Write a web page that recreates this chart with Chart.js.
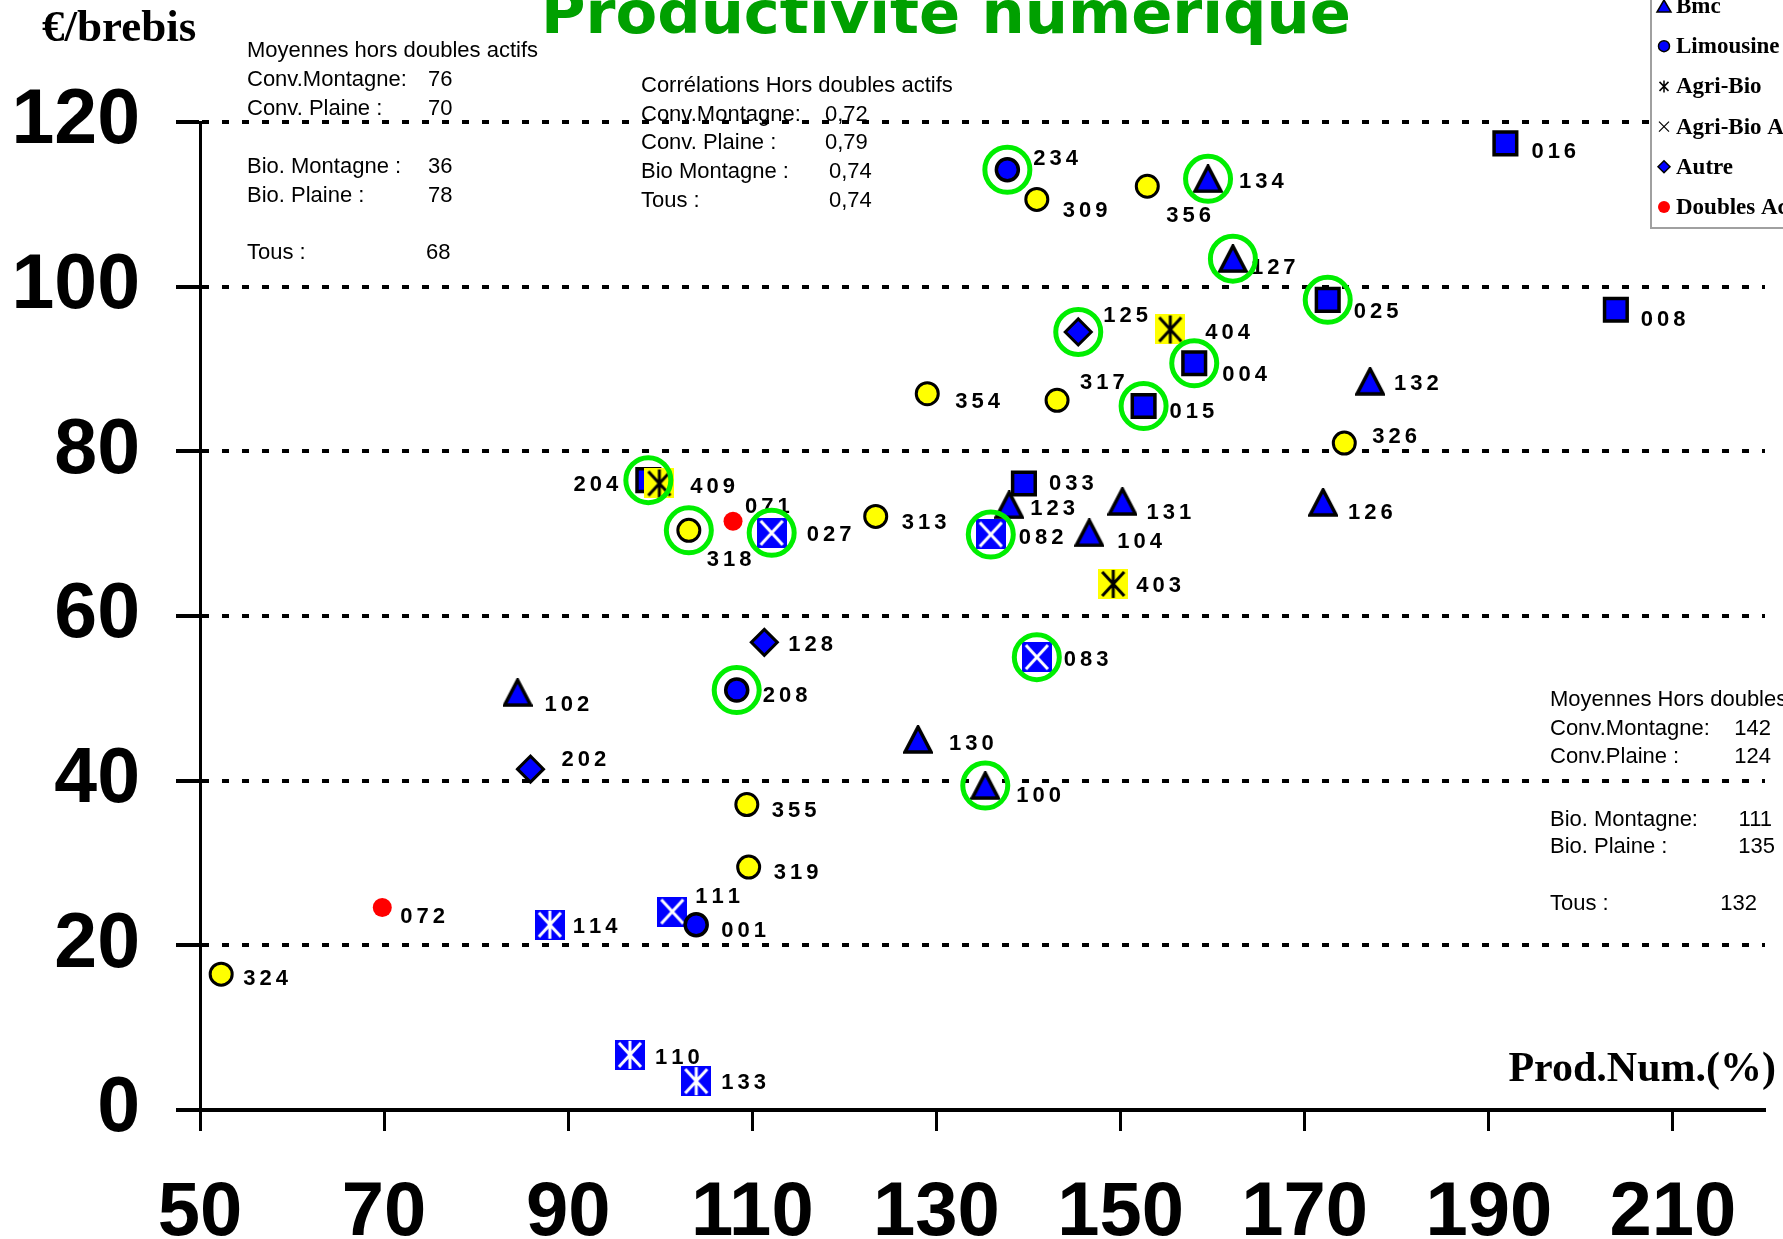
<!DOCTYPE html>
<html lang="fr">
<head>
<meta charset="utf-8">
<title>Productivité numérique</title>
<script src="https://cdn.jsdelivr.net/npm/chart.js@4.4.0/dist/chart.umd.min.js"></script>
<style>
  html, body { margin: 0; padding: 0; background: #fff; overflow: hidden; }
  canvas { display: block; }
</style>
</head>
<body>
<canvas id="myChart" width="1783" height="1239"></canvas>
<script>
// axes
const xTicks = [50, 70, 90, 110, 130, 150, 170, 190, 210];
const yTicks = [0, 20, 40, 60, 80, 100, 120];

// carrés bleus
const carreIds = ['016', '008', '025', '004', '015', '033', '204'];
const carreX = [191.8, 203.8, 172.5, 158.0, 152.5, 139.5, 98.7];
const carreY = [117.4, 97.2, 98.4, 90.7, 85.5, 76.1, 76.5];
// cercles jaunes
const jauneIds = ['309', '356', '354', '317', '326', '313', '318', '355', '319', '324'];
const jauneX = [140.9, 152.9, 129.0, 143.1, 174.3, 123.4, 103.1, 109.4, 109.6, 52.3];
const jauneY = [110.6, 112.2, 87.0, 86.2, 81.0, 72.1, 70.4, 37.1, 29.5, 16.5];
// Bmc
const bmcIds = ['134', '127', '132', '126', '131', '104', '123', '102', '130', '100'];
const bmcX = [159.5, 162.2, 177.1, 172.0, 150.2, 146.6, 137.9, 84.5, 128.0, 135.3];
const bmcY = [113.1, 103.4, 88.5, 73.8, 73.9, 70.1, 73.5, 50.7, 45.0, 39.4];
// Limousine
const limIds = ['234', '208', '001'];
const limX = [137.7, 108.3, 103.9];
const limY = [114.2, 51.0, 22.5];
// Autre
const autreIds = ['125', '128', '202'];
const autreX = [145.4, 111.3, 85.9];
const autreY = [94.5, 56.8, 41.4];
// Doubles actifs
const doublesIds = ['071', '072'];
const doublesX = [107.9, 69.8];
const doublesY = [71.5, 24.6];
// Agri-Bio, fond jaune et fond bleu
const bioJauneIds = ['404', '403', '409'];
const bioJauneX = [155.4, 149.2, 99.9];
const bioJauneY = [94.8, 63.9, 76.1];
const bioBleuIds = ['114', '110', '133'];
const bioBleuX = [88.0, 96.7, 103.9];
const bioBleuY = [22.5, 6.7, 3.5];
// Agri-Bio At
const bioAtIds = ['027', '082', '083', '111'];
const bioAtX = [112.1, 135.9, 140.9, 101.3];
const bioAtY = [70.1, 69.9, 55.0, 24.1];
// élevages entourés en vert
const entoures = ['234', '134', '127', '025', '125', '004', '015', '204', '318', '027', '082', '083', '208', '100'];

// légende (haut coupé)
const legendLabels = ['Bmc', 'Limousine', 'Agri-Bio', 'Agri-Bio At', 'Autre', 'Doubles Actifs'];
const legendShapes = ['triangle', 'rond', 'etoile', 'croix', 'losange', 'rouge'];

// textes d'annotation
const moyGaucheTitre = 'Moyennes hors doubles actifs';
const moyGaucheLabels = ['Conv.Montagne:', 'Conv. Plaine :', 'Bio. Montagne :', 'Bio. Plaine :', 'Tous :'];
const moyGaucheValeurs = ['76', '70', '36', '78', '68'];
const corrTitre = 'Corrélations Hors doubles actifs';
const corrLabels = ['Conv.Montagne:', 'Conv. Plaine :', 'Bio Montagne :', 'Tous :'];
const corrValeurs = ['0,72', '0,79', '0,74', '0,74'];
const moyDroiteTitre = 'Moyennes Hors doubles actifs';
const moyDroiteLabels = ['Conv.Montagne:', 'Conv.Plaine :', 'Bio. Montagne:', 'Bio. Plaine :', 'Tous :'];
const moyDroiteValeurs = ['142', '124', '111', '135', '132'];

// position des étiquettes par rapport au point (px)
const labelOffsets = {
  '234': [26, -11], '309': [26, 12], '356': [19, 30], '134': [31, 3], '016': [26, 9],
  '127': [18, 9], '025': [26, 12], '008': [25, 10], '125': [25, -16], '404': [35, 3],
  '004': [28, 12], '132': [24, 3], '354': [28, 8], '317': [23, -17], '015': [26, 6],
  '326': [28, -6], '204': [-30, 5], '409': [31, 3], '071': [12, -14], '318': [18, 30],
  '027': [35, 2], '313': [26, 7], '128': [24, 3], '208': [26, 6], '102': [27, 12],
  '202': [31, -9], '355': [25, 6], '319': [25, 6], '072': [18, 9], '114': [23, 2],
  '111': [23, -15], '001': [25, 6], '324': [22, 5], '110': [25, 3], '133': [25, 2],
  '033': [25, 0], '123': [21, 4], '131': [24, 11], '104': [28, 9], '403': [23, 2],
  '083': [27, 3], '130': [31, 4], '100': [31, 10], '126': [25, 11], '082': [28, 3]
};

const BLUE = '#0000ff';
const YELLOW = '#ffff00';
const RED = '#ff0000';
const RING = '#00ee00';
const SANS = '"Liberation Sans", Arial, sans-serif';
const SERIF = '"Liberation Serif", "Times New Roman", serif';

function toPoints(xs, ys) {
  return xs.map((x, i) => ({ x: x, y: ys[i] }));
}

// lookup table id -> point, for the green rings
const allPoints = {};
function register(ids, xs, ys) {
  for (let i = 0; i < ids.length; i++) {
    allPoints[ids[i]] = { x: xs[i], y: ys[i] };
  }
}
register(carreIds, carreX, carreY);
register(jauneIds, jauneX, jauneY);
register(bmcIds, bmcX, bmcY);
register(limIds, limX, limY);
register(autreIds, autreX, autreY);
register(doublesIds, doublesX, doublesY);
register(bioJauneIds, bioJauneX, bioJauneY);
register(bioBleuIds, bioBleuX, bioBleuY);
register(bioAtIds, bioAtX, bioAtY);

// small canvases used as point styles
function markerCanvas(w, h, draw) {
  const c = document.createElement('canvas');
  c.width = w;
  c.height = h;
  draw(c.getContext('2d'), w, h);
  return c;
}

const triangleMarker = markerCanvas(30, 29, function (g, w, h) {
  g.beginPath();
  g.moveTo(w / 2, 2);
  g.lineTo(w - 2, h - 2);
  g.lineTo(2, h - 2);
  g.closePath();
  g.fillStyle = BLUE;
  g.fill();
  g.lineWidth = 3.5;
  g.lineJoin = 'miter';
  g.strokeStyle = '#000';
  g.stroke();
});

function crossSquare(fill, line, star) {
  return markerCanvas(30, 30, function (g, w, h) {
    g.fillStyle = fill;
    g.fillRect(0, 0, w, h);
    g.strokeStyle = line;
    g.lineWidth = 3;
    g.beginPath();
    g.moveTo(4, 3); g.lineTo(w - 4, h - 3);
    g.moveTo(w - 4, 3); g.lineTo(4, h - 3);
    if (star) {
      g.moveTo(w / 2, 1); g.lineTo(w / 2, h - 1);
    }
    g.stroke();
  });
}
const starYellow = crossSquare(YELLOW, '#000', true);
const starBlue = crossSquare(BLUE, '#fff', true);
const crossBlue = crossSquare(BLUE, '#fff', false);

const datasets = [
  {
    label: 'Entourés', ids: null,
    data: entoures.map(id => allPoints[id]),
    pointStyle: 'circle', pointRadius: 22.5, backgroundColor: 'rgba(0,0,0,0)',
    borderColor: RING, borderWidth: 5
  },
  {
    label: 'Limousine', ids: limIds, data: toPoints(limX, limY),
    pointStyle: 'circle', pointRadius: 11, backgroundColor: BLUE, borderColor: '#000', borderWidth: 3.5
  },
  {
    label: 'Agri-Bio At', ids: bioAtIds, data: toPoints(bioAtX, bioAtY),
    pointStyle: crossBlue
  },
  {
    label: 'Agri-Bio', ids: bioJauneIds, data: toPoints(bioJauneX, bioJauneY),
    pointStyle: starYellow
  },
  {
    label: 'Agri-Bio', ids: bioBleuIds, data: toPoints(bioBleuX, bioBleuY),
    pointStyle: starBlue
  },
  {
    label: 'Bmc', ids: bmcIds, data: toPoints(bmcX, bmcY),
    pointStyle: triangleMarker
  },
  {
    label: 'Autre', ids: autreIds, data: toPoints(autreX, autreY),
    pointStyle: 'rectRot', pointRadius: 13, backgroundColor: BLUE, borderColor: '#000', borderWidth: 3
  },
  {
    label: 'Doubles Actifs', ids: doublesIds, data: toPoints(doublesX, doublesY),
    pointStyle: 'circle', pointRadius: 9.5, backgroundColor: RED, borderWidth: 0
  },
  {
    label: 'Cercles jaunes', ids: jauneIds, data: toPoints(jauneX, jauneY),
    pointStyle: 'circle', pointRadius: 11, backgroundColor: YELLOW, borderColor: '#000', borderWidth: 3
  },
  {
    label: 'Carrés bleus', ids: carreIds, data: toPoints(carreX, carreY),
    pointStyle: 'rect', pointRadius: 16, backgroundColor: BLUE, borderColor: '#000', borderWidth: 3.5
  }
];

// letter-spaced text, like the original point numbers
function drawSpaced(ctx, text, x, y, spacing, alignRight) {
  let w = 0;
  for (const ch of text) w += ctx.measureText(ch).width + spacing;
  w -= spacing;
  let cx = alignRight ? x - w : x;
  for (const ch of text) {
    ctx.fillText(ch, cx, y);
    cx += ctx.measureText(ch).width + spacing;
  }
}

const pointLabels = {
  id: 'pointLabels',
  beforeDatasetsDraw(chart) {
    const ctx = chart.ctx;
    ctx.save();
    ctx.font = 'bold 22px ' + SANS;
    ctx.fillStyle = '#000';
    ctx.textAlign = 'left';
    ctx.textBaseline = 'middle';
    chart.data.datasets.forEach(function (ds, di) {
      if (!ds.ids) return;
      const meta = chart.getDatasetMeta(di);
      meta.data.forEach(function (pt, i) {
        const id = ds.ids[i];
        const off = labelOffsets[id] || [26, 5];
        drawSpaced(ctx, id, pt.x + off[0], pt.y + off[1], 4, off[0] < 0);
      });
    });
    ctx.restore();
  }
};

function legendMarker(ctx, shape, x, y) {
  ctx.save();
  ctx.lineWidth = 1.5;
  ctx.strokeStyle = '#000';
  ctx.beginPath();
  if (shape === 'triangle') {
    ctx.moveTo(x, y - 6); ctx.lineTo(x + 7, y + 6); ctx.lineTo(x - 7, y + 6); ctx.closePath();
    ctx.fillStyle = BLUE; ctx.fill(); ctx.stroke();
  } else if (shape === 'rond') {
    ctx.arc(x, y, 5.5, 0, Math.PI * 2);
    ctx.fillStyle = BLUE; ctx.fill(); ctx.stroke();
  } else if (shape === 'etoile') {
    ctx.moveTo(x - 4.5, y - 4.5); ctx.lineTo(x + 4.5, y + 4.5);
    ctx.moveTo(x + 4.5, y - 4.5); ctx.lineTo(x - 4.5, y + 4.5);
    ctx.moveTo(x, y - 6); ctx.lineTo(x, y + 6);
    ctx.stroke();
  } else if (shape === 'croix') {
    ctx.lineWidth = 1.2;
    ctx.moveTo(x - 5, y - 5); ctx.lineTo(x + 5, y + 5);
    ctx.moveTo(x + 5, y - 5); ctx.lineTo(x - 5, y + 5);
    ctx.stroke();
  } else if (shape === 'losange') {
    ctx.moveTo(x, y - 6); ctx.lineTo(x + 6, y); ctx.lineTo(x, y + 6); ctx.lineTo(x - 6, y); ctx.closePath();
    ctx.fillStyle = BLUE; ctx.fill(); ctx.stroke();
  } else if (shape === 'rouge') {
    ctx.arc(x, y, 6, 0, Math.PI * 2);
    ctx.fillStyle = RED; ctx.fill();
  }
  ctx.restore();
}

function drawBlock(ctx, x, titre, titreY, labels, valeurs, ys, valX, alignRight) {
  ctx.textAlign = 'left';
  ctx.fillText(titre, x, titreY);
  for (let i = 0; i < labels.length; i++) {
    ctx.textAlign = 'left';
    ctx.fillText(labels[i], x, ys[i]);
    ctx.textAlign = alignRight ? 'right' : 'left';
    ctx.fillText(valeurs[i], valX[i], ys[i]);
  }
}

const decorations = {
  id: 'decorations',
  afterDraw(chart) {
    const ctx = chart.ctx;
    ctx.save();

    // title, cut at the top like the original slide
    ctx.font = 'bold 58px "DejaVu Sans", sans-serif';
    ctx.fillStyle = '#00a000';
    ctx.textBaseline = 'alphabetic';
    ctx.textAlign = 'left';
    const titre = 'Productivité numérique';
    const tw = ctx.measureText(titre).width;
    ctx.save();
    ctx.translate(541, 33);
    ctx.scale(810 / tw, 1);
    ctx.fillText(titre, 0, 0);
    ctx.restore();

    // axis titles
    ctx.fillStyle = '#000';
    ctx.font = 'bold 45px ' + SERIF;
    ctx.fillText('€/brebis', 42, 41);
    ctx.font = 'bold 42px ' + SERIF;
    ctx.textAlign = 'right';
    ctx.fillText('Prod.Num.(%)', 1776, 1081);

    // annotation blocks
    ctx.font = '22px ' + SANS;
    ctx.textBaseline = 'middle';
    drawBlock(ctx, 247, moyGaucheTitre, 51, moyGaucheLabels, moyGaucheValeurs,
      [80, 109, 167, 196, 253], [428, 428, 428, 428, 426], false);
    drawBlock(ctx, 641, corrTitre, 86, corrLabels, corrValeurs,
      [115, 143, 172, 201], [825, 825, 829, 829], false);
    drawBlock(ctx, 1550, moyDroiteTitre, 700, moyDroiteLabels, moyDroiteValeurs,
      [729, 757, 820, 847, 904], [1771, 1771, 1772, 1775, 1757], true);

    // legend box, top part off the picture
    ctx.fillStyle = '#fff';
    ctx.fillRect(1651, -20, 200, 248);
    ctx.strokeStyle = '#a0a0a0';
    ctx.lineWidth = 2;
    ctx.strokeRect(1651, -20, 200, 248);
    ctx.font = 'bold 23px ' + SERIF;
    ctx.textAlign = 'left';
    ctx.fillStyle = '#000';
    for (let i = 0; i < legendLabels.length; i++) {
      const ly = 6 + i * 40.2;
      legendMarker(ctx, legendShapes[i], 1664, ly);
      ctx.fillStyle = '#000';
      ctx.fillText(legendLabels[i], 1676, ly + 1);
    }
    ctx.restore();
  }
};

const ctx = document.getElementById('myChart').getContext('2d');
const chart = new Chart(ctx, {
  type: 'scatter',
  data: { datasets: datasets },
  options: {
    responsive: false,
    animation: false,
    devicePixelRatio: 1,
    layout: { autoPadding: false, padding: { top: 122, right: 18, left: 0, bottom: 0 } },
    plugins: {
      legend: { display: false },
      tooltip: { enabled: false }
    },
    scales: {
      x: {
        type: 'linear',
        min: 50,
        max: 220,
        afterBuildTicks: function (s) { s.ticks = xTicks.map(v => ({ value: v })); },
        afterFit: function (s) {
          s.height = 129;
          s.paddingLeft = 0;
          s.paddingRight = 0;
        },
        ticks: {
          color: '#000',
          padding: 37,
          maxRotation: 0,
          autoSkip: false,
          font: { family: SANS, size: 76, weight: 'bold' }
        },
        grid: { drawOnChartArea: false, drawTicks: true, tickLength: 21, tickWidth: 3, tickColor: '#000' },
        border: { display: true, color: '#000', width: 4 }
      },
      y: {
        min: 0,
        max: 120,
        afterBuildTicks: function (s) { s.ticks = yTicks.map(v => ({ value: v })); },
        afterFit: function (s) { s.width = 200; },
        ticks: {
          color: '#000',
          padding: 36,
          autoSkip: false,
          font: { family: SANS, size: 77, weight: 'bold' }
        },
        grid: { color: '#000', lineWidth: 4, tickLength: 24, tickWidth: 4, tickColor: '#000', tickBorderDash: [] },
        border: { display: true, color: '#000', width: 3, dash: [7, 13] }
      }
    }
  },
  plugins: [pointLabels, decorations]
});
</script>
</body>
</html>
